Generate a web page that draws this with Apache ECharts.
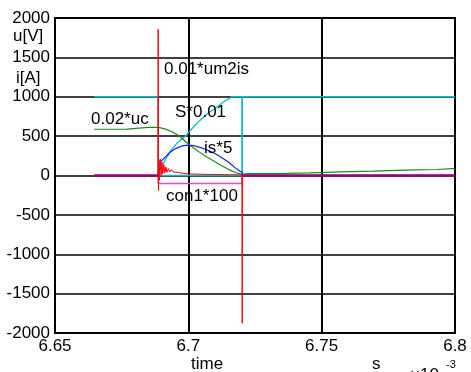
<!DOCTYPE html>
<html><head><meta charset="utf-8">
<script src="https://cdn.jsdelivr.net/npm/echarts@6/dist/echarts.min.js"></script>
<style>html,body{margin:0;padding:0;background:#fff}#c{width:471px;height:372px}</style>
</head><body><div id="c"></div>
<script>
// time in ms (axis shows x10^-3 s)
const xTicks = [6.65, 6.7, 6.75, 6.8];
const yTicks = [-2000, -1500, -1000, -500, 0, 500, 1000, 1500, 2000];

const um2isT = [6.6647, 6.6887, 6.6887, 6.7202, 6.7202, 6.8];
const um2isV = [1000, 1000, 0, 0, 1000, 1000];

const sT = [6.6887, 6.6910, 6.6935, 6.6960, 6.6989, 6.7015, 6.7040, 6.7070, 6.7100, 6.7130, 6.7163, 6.7202, 6.7202, 6.8];
const sV = [40, 180, 320, 420, 500, 600, 690, 780, 850, 930, 1000, 1000, 0, 0];

const ucT = [6.6647, 6.6770, 6.6774, 6.6850, 6.6887, 6.6912, 6.6939, 6.6969, 6.6991, 6.7014, 6.7040, 6.7066, 6.7092, 6.7122, 6.7152, 6.7178, 6.7202,
             6.7219, 6.7338, 6.7338, 6.7456, 6.7456, 6.7575, 6.7575, 6.7694, 6.7694, 6.7813, 6.7813, 6.7932, 6.7932, 6.8];
const ucV = [587, 590, 605, 612, 612, 592, 555, 495, 425, 365, 300, 240, 190, 130, 75, 35, 15,
             23, 25, 32, 34, 44, 46, 53, 55, 66, 68, 74, 76, 87, 91];

const isT = [6.6647, 6.6887, 6.6890, 6.6912, 6.6931, 6.6954, 6.6976, 6.6999, 6.7025, 6.7051, 6.7078, 6.7100, 6.7126, 6.7153, 6.7175, 6.7194, 6.7202, 6.7203, 6.8];
const isV = [0, 0, 150, 230, 295, 345, 375, 385, 375, 350, 315, 280, 225, 165, 100, 55, 40, 0, 0];

const redT = [6.6647, 6.6886, 6.6887, 6.6888, 6.6890, 6.6892, 6.6895, 6.6898, 6.6901, 6.6904, 6.6908, 6.6912, 6.6916, 6.6920, 6.6925, 6.6930, 6.6936, 6.6943, 6.6950, 6.6960, 6.6975, 6.7000, 6.7100, 6.7201, 6.7202, 6.7203, 6.8];
const redV = [0, 0, 1857, -190, 200, -60, 210, 0, 170, 20, 140, 30, 110, 40, 90, 45, 75, 45, 60, 40, 30, 20, 12, 8, -1877, 0, 0];

const conT = [6.6887, 6.6887, 6.7202, 6.7202];
const conV = [0, -100, -100, 0];

const zeroT = [6.6647, 6.6887, null, 6.7202, 6.8];
const zeroV = [0, 0, null, 0, 0];

function pairs(t, v) { return t.map((x, i) => (x === null ? '-' : [x, v[i]])); }

const FONT = '"Liberation Sans", Arial, sans-serif';
const chart = echarts.init(document.getElementById('c'), null, {renderer: 'canvas'});
function line(name, t, v, color, w, z) {
  return {name, type: 'line', data: pairs(t, v), showSymbol: false, symbol: 'none',
          lineStyle: {color, width: w}, itemStyle: {color}, z, animation: false, connectNulls: false};
}
function txt(text, x, y, size, align) {
  return {type: 'text', x, y, z: 100, style: {text, fill: '#000', font: size + 'px ' + FONT, align: align || 'left', verticalAlign: 'middle'}};
}
chart.setOption({
  animation: false,
  backgroundColor: '#fff',
  grid: {left: 55, right: 16, top: 18, bottom: 39, show: true, borderColor: '#000', borderWidth: 2, backgroundColor: 'transparent'},
  xAxis: {type: 'value', min: xTicks[0], max: xTicks[xTicks.length - 1], interval: 0.05,
    axisLine: {show: false}, axisTick: {show: false},
    axisLabel: {color: '#000', fontSize: 17, fontFamily: FONT, margin: 5, formatter: v => String(+v.toFixed(2)), showMinLabel: true, showMaxLabel: true},
    splitLine: {show: true, lineStyle: {color: '#000', width: 2}}},
  yAxis: {type: 'value', min: yTicks[0], max: yTicks[yTicks.length - 1], interval: 500,
    axisLine: {show: false}, axisTick: {show: false},
    axisLabel: {color: '#000', fontSize: 17, fontFamily: FONT, margin: 5, formatter: v => String(Math.round(v))},
    splitLine: {show: true, lineStyle: {color: '#000', width: 1.5}}},
  series: [
    line('0.01*um2is', um2isT, um2isV, '#00bfc4', 1.5, 2),
    line('S*0.01', sT, sV, '#00bfc4', 1.3, 3),
    line('0.02*uc', ucT, ucV, '#1a8a1a', 1.2, 4),
    line('is*5', isT, isV, '#1a1aff', 1.2, 5),
    line('con1*100', conT, conV, '#d050d0', 1.5, 6),
    line('red', redT, redV, '#ff0000', 1, 7),
    line('zero', zeroT, zeroV, '#99007a', 2.5, 8)
  ],
  graphic: [
    txt('u[V]', 13, 36, 17), txt('i[A]', 16, 78, 17),
    txt('0.01*um2is', 164, 69, 17), txt('S*0.01', 175, 112, 17),
    txt('0.02*uc', 91, 119, 17), txt('is*5', 204, 148, 17),
    txt('con1*100', 166, 196, 17),
    txt('time', 191, 364, 17), txt('s', 372, 364, 17),
    txt('×10', 410, 375, 17), txt('-3', 446, 365, 11)
  ]
});
</script></body></html>
